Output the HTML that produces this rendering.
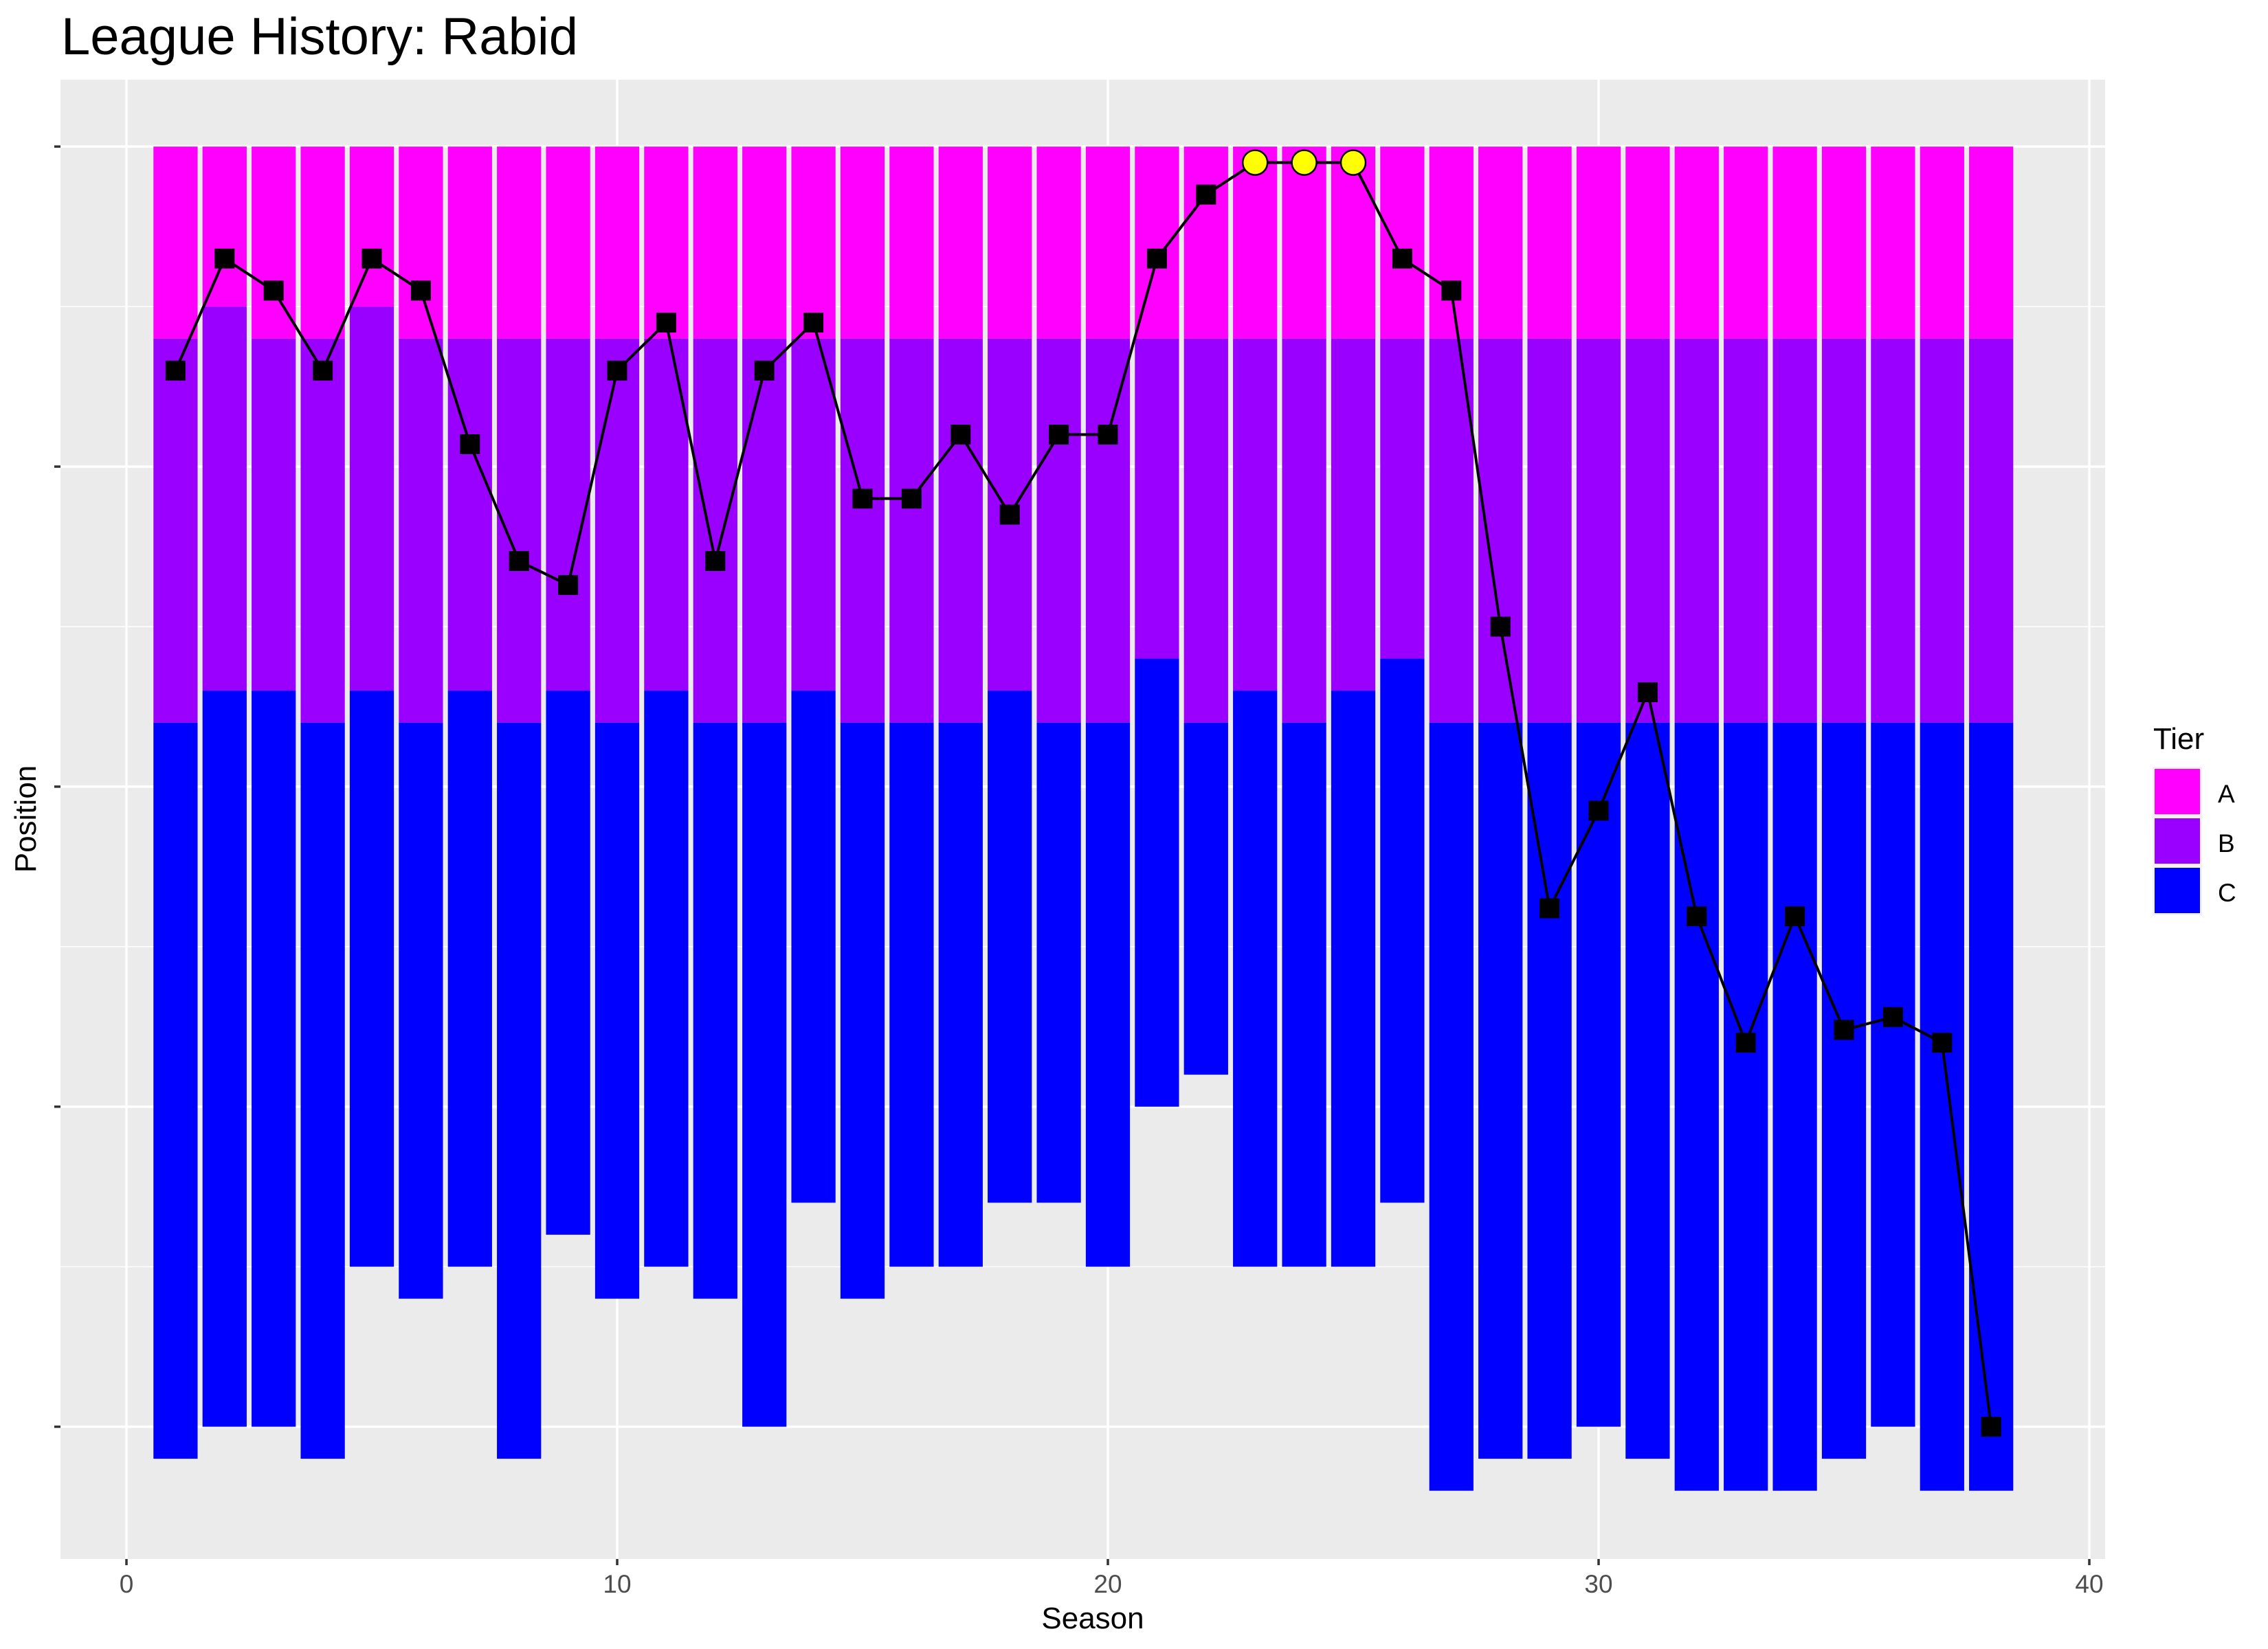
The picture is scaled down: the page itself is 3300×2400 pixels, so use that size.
<!DOCTYPE html>
<html><head><meta charset="utf-8"><style>
html,body{margin:0;padding:0;background:#fff;}
svg{display:block;font-family:"Liberation Sans",Arial,sans-serif;}
</style></head><body>
<svg id="chart" width="3300" height="2400" viewBox="0 0 3300 2400">
<rect x="0" y="0" width="3300" height="2400" fill="#fff"/>
<text x="89" y="79" font-size="76" fill="#000">League History: Rabid</text>
<rect x="88" y="116" width="2975" height="2153" fill="#ebebeb"/>
<g id="grid"></g><g id="bars"></g><g id="line"></g><g id="axes"></g>
<text x="1590" y="2370" font-size="44" text-anchor="middle" fill="#000">Season</text>
<text transform="translate(52,1192) rotate(-90)" font-size="44" text-anchor="middle" fill="#000">Position</text>
<g>
<text x="3133" y="1090" font-size="44" fill="#000">Tier</text>
<rect x="3132" y="1116" width="72" height="216" fill="#f2f2f2"/>
<rect x="3135" y="1119" width="66" height="66" fill="#ff00ff"/>
<rect x="3135" y="1191" width="66" height="66" fill="#9a00ff"/>
<rect x="3135" y="1263" width="66" height="66" fill="#0000ff"/>
<text x="3227" y="1168" font-size="37" fill="#000">A</text>
<text x="3227" y="1240" font-size="37" fill="#000">B</text>
<text x="3227" y="1312" font-size="37" fill="#000">C</text>
</g>
</svg>
<script>
const seasons = [1,2,3,4,5,6,7,8,9,10,11,12,13,14,15,16,17,18,19,20,21,22,23,24,25,26,27,28,29,30,31,32,33,34,35,36,37,38];
const tierAEnd = [12,10,12,12,10,12,12,12,12,12,12,12,12,12,12,12,12,12,12,12,12,12,12,12,12,12,12,12,12,12,12,12,12,12,12,12,12,12];
const tierBEnd = [36,34,34,36,34,36,34,36,34,36,34,36,36,34,36,36,36,34,36,36,32,36,34,36,34,32,36,36,36,36,36,36,36,36,36,36,36,36];
const tierCEnd = [82,80,80,82,70,72,70,82,68,72,70,72,80,66,72,70,70,66,66,70,60,58,70,70,70,66,84,82,82,80,82,84,84,84,82,80,84,84];
const positions = [14,7,9,14,7,9,18.6,25.9,27.4,14,11,25.9,14,11,22,22,18,23,18,18,7,3,1,1,1,7,9,30,47.6,41.5,34.1,48.1,56,48.1,55.2,54.4,56,80];
const xTicks = [0,10,20,30,40];
const yTicks = [0,20,40,60,80];
const yMinor = [10,30,50,70];

const NS = 'http://www.w3.org/2000/svg';
const X0 = 184, XU = 71.4, Y0 = 213.3, YU = 23.29;
const xs = v => X0 + v*XU;
const ys = v => Y0 + v*YU;
function mk(tag, attrs, parent){ const e=document.createElementNS(NS,tag); for(const k in attrs) e.setAttribute(k,attrs[k]); parent.appendChild(e); return e; }
const grid=document.getElementById('grid'), bars=document.getElementById('bars'), line=document.getElementById('line'), axes=document.getElementById('axes');

yMinor.forEach(v=>{ const l=mk('line',{x1:88,x2:3063,y1:ys(v),y2:ys(v),stroke:'#fff','stroke-width':1.5},grid);

 });
yTicks.forEach(v=>{ const l=mk('line',{x1:88,x2:3063,y1:ys(v),y2:ys(v),stroke:'#fff','stroke-width':3.5},grid);


const t=mk('line',{x1:79,x2:88,y1:ys(v),y2:ys(v),stroke:'#333','stroke-width':3.5},axes);

 });
xTicks.forEach(v=>{ const l=mk('line',{y1:116,y2:2269,x1:xs(v),x2:xs(v),stroke:'#fff','stroke-width':3.5},grid);


const t=mk('line',{y1:2269,y2:2278,x1:xs(v),x2:xs(v),stroke:'#333','stroke-width':3.5},axes);


const lb=mk('text',{x:xs(v),y:2318,'font-size':37,'text-anchor':'middle',fill:'#4d4d4d'},axes);
lb.textContent=String(v);

 });

const bw = 0.9*XU;
seasons.forEach((s,i)=>{
  const segs=[[0,tierAEnd[i],'#ff00ff','a'],[tierAEnd[i],tierBEnd[i],'#9a00ff','b'],[tierBEnd[i],tierCEnd[i],'#0000ff','c']];
  segs.forEach(sg=>{ const r=mk('rect',{x:xs(s)-bw/2,y:ys(sg[0]),width:bw,height:ys(sg[1])-ys(sg[0]),fill:sg[2]},bars);
  
   });
});
const pts = seasons.map((s,i)=>xs(s)+','+ys(positions[i])).join(' ');
const pl=mk('polyline',{points:pts,fill:'none',stroke:'#000','stroke-width':4},line);


seasons.forEach((s,i)=>{
  const p=positions[i];
  if(p<=1){ const c=mk('circle',{cx:xs(s),cy:ys(p),r:18,fill:'#ffff00',stroke:'#000','stroke-width':2.5},line);
  
   }
  else { const q=mk('rect',{x:xs(s)-14.5,y:ys(p)-14.5,width:29,height:29,fill:'#000'},line);
  
   }
});
</script>
</body></html>
